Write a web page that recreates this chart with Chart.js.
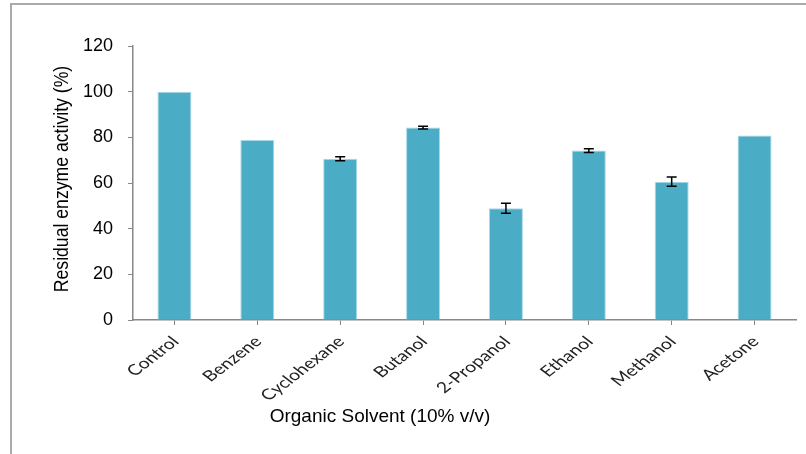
<!DOCTYPE html>
<html>
<head>
<meta charset="utf-8">
<script src="https://cdn.jsdelivr.net/npm/chart.js@4"></script>
<style>
  body { margin: 0; background: #fff; }
  #wrap { position: relative; width: 806px; height: 454px; }
  #frame { position: absolute; left: 10px; top: 3px; right: 0; bottom: 0;
           border-top: 2px solid #aaa; border-left: 2px solid #aaa; pointer-events: none; }
</style>
</head>
<body>
<div id="wrap">
  <canvas id="chart" width="806" height="454"></canvas>
  <div id="frame"></div>
</div>
<script>
var solvents = ['Control', 'Benzene', 'Cyclohexane', 'Butanol', '2-Propanol', 'Ethanol', 'Methanol', 'Acetone'];
var activity = [100, 78.8, 70.6, 84.3, 48.9, 74.2, 60.6, 80.8];
var errors = [0, 0, 0.9, 0.6, 2.2, 0.8, 2.0, 0];
var yTicks = [0, 20, 40, 60, 80, 100, 120];

// error bars drawn through the y scale
var errorBars = {
  id: 'errorBars',
  afterDatasetsDraw: function(chart) {
    var ctx = chart.ctx;
    var y = chart.scales.y;
    var meta = chart.getDatasetMeta(0);
    ctx.save();
    ctx.strokeStyle = '#000';
    ctx.lineWidth = 1.5;
    meta.data.forEach(function(bar, i) {
      var e = errors[i];
      if (!e) return;
      var top = y.getPixelForValue(activity[i] + e);
      var bot = y.getPixelForValue(activity[i] - e);
      ctx.beginPath();
      ctx.moveTo(bar.x, top); ctx.lineTo(bar.x, bot);
      ctx.moveTo(bar.x - 5, top); ctx.lineTo(bar.x + 5, top);
      ctx.moveTo(bar.x - 5, bot); ctx.lineTo(bar.x + 5, bot);
      ctx.stroke();
    });
    ctx.restore();
  }
};

// the original picture is stretched sideways, so the slanted labels are too
var catLabels = {
  id: 'catLabels',
  afterDraw: function(chart) {
    var ctx = chart.ctx;
    var x = chart.scales.x;
    ctx.save();
    ctx.font = '15px Lato, "Open Sans", sans-serif';
    ctx.fillStyle = '#222';
    ctx.textAlign = 'right';
    ctx.textBaseline = 'middle';
    solvents.forEach(function(lab, i) {
      ctx.save();
      ctx.translate(x.getPixelForValue(i) + 1, x.top + 19);
      ctx.scale(1.3, 1);
      ctx.rotate(-Math.PI / 4);
      ctx.fillText(lab, 0, 0);
      ctx.restore();
    });
    ctx.restore();
  }
};

// axis titles: x sits left of plot centre, y is a condensed face
var titles = {
  id: 'titles',
  afterDraw: function(chart) {
    var ctx = chart.ctx;
    var area = chart.chartArea;
    ctx.save();
    ctx.font = '19px "Liberation Sans", Arial, sans-serif';
    ctx.fillStyle = '#000';
    ctx.textAlign = 'center';
    ctx.textBaseline = 'middle';
    ctx.fillText('Organic Solvent (10% v/v)', 380, 417);
    ctx.translate(62, (area.top + area.bottom) / 2 - 4);
    ctx.rotate(-Math.PI / 2);
    ctx.scale(0.84, 1);
    ctx.font = '21px "Liberation Sans", Arial, sans-serif';
    ctx.fillText('Residual enzyme activity (%)', 0, 0);
    ctx.restore();
  }
};

var chart = new Chart('chart', {
  type: 'bar',
  data: {
    labels: solvents,
    datasets: [{
      data: activity,
      backgroundColor: '#4BACC6',
      borderColor: '#a9d8e6',
      borderWidth: 1,
      barPercentage: 0.41,
      categoryPercentage: 1
    }]
  },
  options: {
    responsive: false,
    animation: false,
    layout: { padding: { left: 45, top: 46, right: 10, bottom: 0 } },
    plugins: {
      legend: { display: false },
      tooltip: { enabled: false }
    },
    scales: {
      x: {
        afterFit: function(s) { s.height = 134; },
        grid: { display: true, drawOnChartArea: false, offset: false, tickLength: 5, color: '#888' },
        border: { color: '#888', width: 1.5 },
        ticks: { display: false }
      },
      y: {
        min: 0, max: 120,
        afterFit: function(s) { s.width = 88; },
        afterBuildTicks: function(s) { s.ticks = yTicks.map(function(v) { return { value: v }; }); },
        grid: { display: true, drawOnChartArea: false, tickLength: 5, color: '#888' },
        border: { color: '#888', width: 1.5 },
        ticks: {
          padding: 15, color: '#000',
          font: { family: '"Liberation Sans", Arial, sans-serif', size: 18 }
        }
      }
    }
  },
  plugins: [errorBars, catLabels, titles]
});
</script>
</body>
</html>
